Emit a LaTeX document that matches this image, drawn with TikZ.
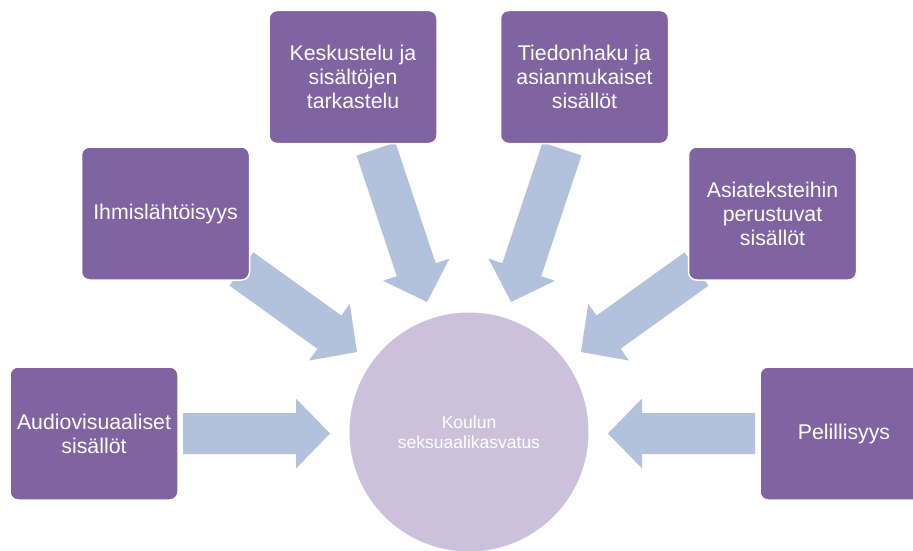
\documentclass[tikz,border=0pt]{standalone}
\usepackage{fontspec}
\setmainfont{Liberation Sans}
\usetikzlibrary{calc,backgrounds}

\definecolor{boxpurple}{HTML}{8064A2}
\definecolor{arrowblue}{HTML}{B3C2DC}
\definecolor{hublilac}{HTML}{CCC1DA}

\tikzset{
  topic/.style={fill=boxpurple, draw=white, line width=1.5pt, rounded corners=8pt,
    minimum width=168pt, minimum height=133pt, inner sep=0pt,
    text=white, align=center, font=\fontsize{21.3}{24}\selectfont},
  hub/.style={circle, fill=hublilac, minimum size=239pt, inner sep=0pt,
    text=white, align=center, font=\fontsize{17.5}{19.5}\selectfont},
}

% wide block arrow: name, tail, tip
\newcommand{\bigarrow}[3]{%
  \coordinate (#1-base) at ($(#3)!34pt!(#2)$);
  \fill[arrowblue] ($(#2)!20.5pt!90:(#3)$) -- ($(#1-base)!20.5pt!90:(#3)$)
    -- ($(#1-base)!35pt!90:(#3)$) -- (#3) -- ($(#1-base)!35pt!-90:(#3)$)
    -- ($(#1-base)!20.5pt!-90:(#3)$) -- ($(#2)!20.5pt!-90:(#3)$) -- cycle;
}

\begin{document}
\begin{tikzpicture}[x=1pt, y=-1pt]

\clip (0,0) rectangle (913,551);

\node [hub] (hub) at (469,432) {Koulun\\seksuaalikasvatus};

\node [topic] (audio) at (94,433.5) {Audiovisuaaliset\\sisällöt};
\node [topic] (human) at (165.5,213.5) {Ihmislähtöisyys};
\node [topic] (talk) at (353,77) {Keskustelu ja\\sisältöjen\\tarkastelu};
\node [topic] (search) at (584.5,77) {Tiedonhaku ja\\asianmukaiset\\sisällöt};
\node [topic] (facts) at (772.5,213.5) {Asiateksteihin\\perustuvat\\sisällöt};
\node [topic] (game) at (844,433.5) {Pelillisyys};

\coordinate (audio-tail) at (183,433.5);
\coordinate (audio-tip) at (330,433.5);
\coordinate (human-tail) at (241.5,269);
\coordinate (human-tip) at (357,352);
\coordinate (talk-tail) at (376,149);
\coordinate (talk-tip) at (427,302);
\coordinate (search-tail) at (562,149);
\coordinate (search-tip) at (511,302);
\coordinate (facts-tail) at (696.5,269);
\coordinate (facts-tip) at (581,352);
\coordinate (game-tail) at (755,433.5);
\coordinate (game-tip) at (608,433.5);

\begin{scope}[on background layer]
\bigarrow{audio}{audio-tail}{audio-tip}
\bigarrow{human}{human-tail}{human-tip}
\bigarrow{talk}{talk-tail}{talk-tip}
\bigarrow{search}{search-tail}{search-tip}
\bigarrow{facts}{facts-tail}{facts-tip}
\bigarrow{game}{game-tail}{game-tip}
\end{scope}

\end{tikzpicture}
\end{document}
